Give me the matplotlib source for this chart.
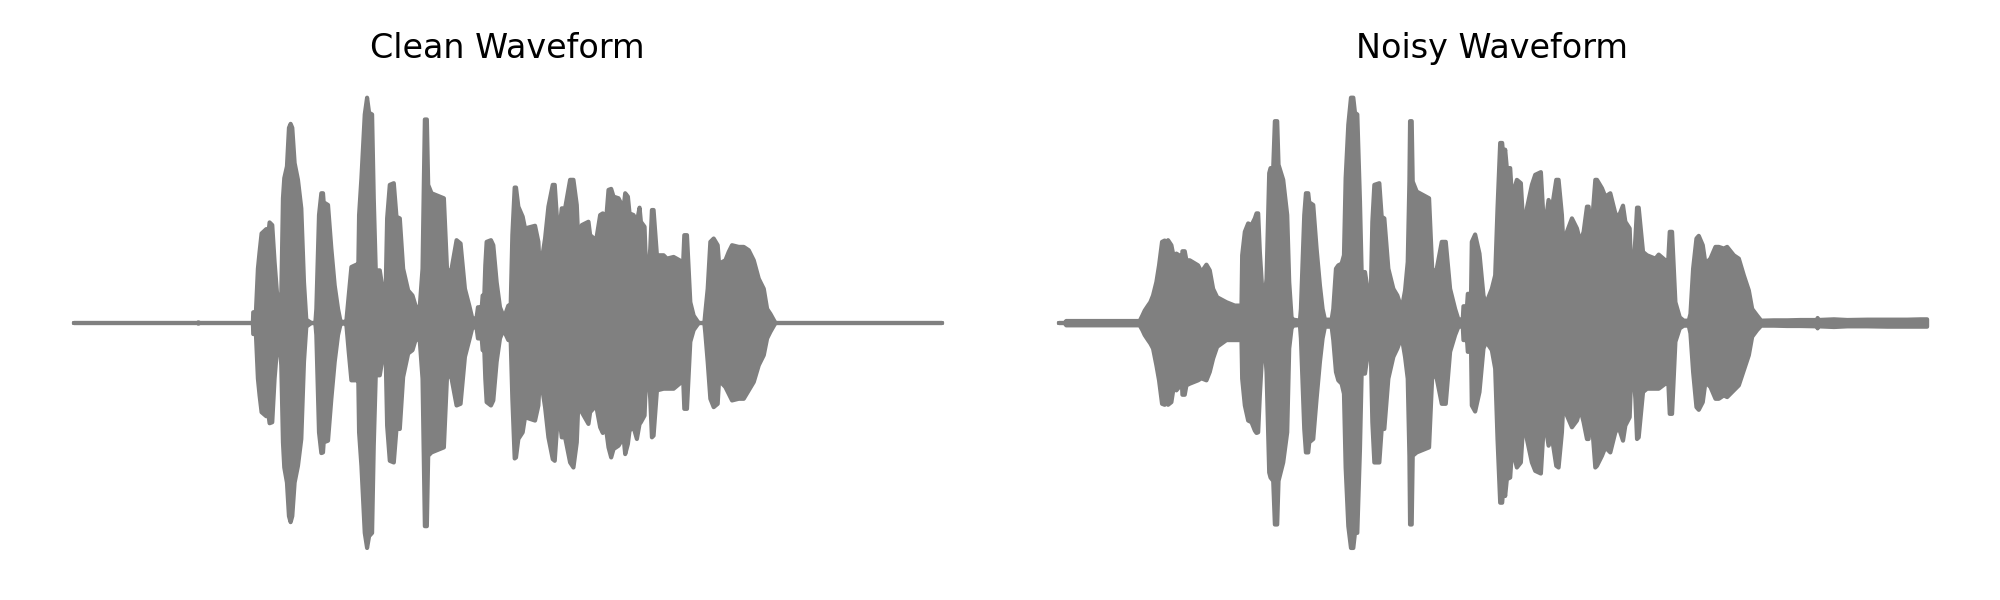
import matplotlib
matplotlib.use('Agg')
import matplotlib.pyplot as plt

# envelope of each waveform (arbitrary time / amplitude units)
clean_t = [74, 445, 447, 450, 608, 610, 611, 616, 618, 625, 630, 636, 650, 657, 660, 668, 675, 682, 690, 695,
           700, 704, 712, 718, 723, 728, 735, 745, 755, 763, 770, 785, 797, 800, 808, 815, 820, 822, 835, 845,
           855, 865, 872, 880, 890, 897, 905, 920, 925, 928, 935, 945, 952, 958, 967, 972, 978, 990, 1000, 1007,
           1012, 1020, 1032, 1040, 1050, 1060, 1075, 1088, 1100, 1110, 1118, 1122, 1125, 1131, 1135, 1145, 1182, 1192, 1205, 1220,
           1232, 1245, 1258, 1268, 1280, 1284, 1288, 1292, 1298, 1303, 1306, 1310, 1323, 1330, 1340, 1350, 1360, 1368, 1375, 1382,
           1387, 1394, 1398, 1405, 1418, 1425, 1455, 1465, 1470, 1475, 1485, 1495, 1508, 1514, 1525, 1535, 1545, 1560, 1570, 1580,
           1590, 1595, 1615, 1620, 1638, 1650, 1658, 1665, 1675, 1683, 1690, 1705, 1720, 1725, 1733, 1738, 1750, 1760, 1768, 1772,
           1783, 1790, 1800, 1805, 1810, 1820, 1840, 1850, 1870, 1888, 1895, 1902, 1910, 1920, 1930, 1945, 1962, 1965, 1972, 1980,
           1990, 2002, 2006, 2025, 2035, 2045, 2065, 2080, 2095, 2110, 2125, 2140, 2150, 2160, 2175, 2674]
clean_top = [0, 0, 2, 0, 0, 0, 32, 32, 10, 162, 212, 267, 280, 272, 300, 292, 182, 92, 57, 82,
             372, 432, 467, 582, 594, 582, 477, 427, 342, 122, 10, 0, 0, 42, 322, 387, 387, 360, 352, 222,
             112, 42, 7, 2, 7, 82, 167, 174, 122, 322, 432, 622, 672, 627, 622, 372, 157, 157, 92, 67,
             312, 412, 417, 317, 312, 162, 97, 82, 42, 52, 162, 422, 607, 607, 412, 387, 372, 147, 162, 247,
             237, 102, 52, 10, 17, 47, 47, 2, 82, 82, 172, 242, 247, 232, 122, 47, 22, 32, 52, 52,
             262, 404, 404, 347, 317, 282, 290, 242, 142, 187, 252, 347, 412, 412, 247, 342, 342, 427, 427, 352,
             112, 292, 302, 262, 247, 322, 327, 272, 397, 400, 377, 372, 342, 387, 377, 327, 322, 302, 344, 302,
             287, 92, 222, 337, 337, 202, 202, 192, 197, 187, 97, 262, 262, 62, 22, 0, 0, 32, 102, 242,
             252, 232, 177, 187, 212, 232, 227, 227, 217, 187, 132, 102, 42, 27, 0, 0]
clean_bottom = [0, 0, -2, 0, 0, 0, -33, -33, -10, -166, -216, -266, -278, -276, -299, -296, -166, -81, -61, -126,
                -356, -431, -476, -576, -594, -576, -476, -426, -346, -116, -11, 0, 0, -36, -326, -388, -386, -356, -351, -226,
                -116, -36, -6, 0, -6, -86, -171, -171, -126, -326, -426, -626, -671, -636, -626, -366, -156, -156, -96, -66,
                -306, -411, -416, -316, -316, -161, -91, -81, -41, -56, -166, -416, -606, -606, -396, -386, -371, -146, -166, -246,
                -241, -101, -51, -11, -16, -46, -46, -1, -81, -81, -166, -236, -246, -231, -116, -46, -21, -36, -51, -51,
                -226, -404, -401, -346, -326, -281, -291, -246, -146, -186, -251, -341, -406, -411, -251, -341, -341, -416, -431, -356,
                -106, -266, -301, -266, -246, -311, -328, -296, -371, -401, -376, -366, -341, -391, -361, -321, -311, -346, -301, -296,
                -276, -96, -226, -341, -336, -201, -196, -196, -196, -181, -76, -256, -256, -56, -21, 0, 0, -31, -116, -226,
                -251, -241, -171, -191, -211, -231, -226, -226, -201, -176, -126, -96, -46, -26, 0, 0]

noisy_t = [58, 75, 80, 300, 308, 315, 325, 332, 340, 350, 358, 367, 375, 380, 385, 395, 402, 410, 418, 425,
           428, 435, 440, 450, 475, 485, 500, 510, 520, 532, 560, 585, 605, 607, 615, 625, 635, 645, 650, 655,
           660, 667, 675, 680, 688, 692, 700, 705, 712, 716, 730, 742, 748, 755, 760, 780, 783, 793, 798, 805,
           808, 820, 830, 840, 848, 855, 875, 880, 888, 895, 905, 912, 917, 925, 933, 940, 945, 952, 960, 965,
           975, 985, 992, 997, 1003, 1018, 1025, 1033, 1045, 1060, 1072, 1085, 1095, 1103, 1108, 1110, 1115, 1118, 1130, 1167,
           1177, 1190, 1205, 1217, 1230, 1245, 1255, 1268, 1270, 1275, 1278, 1283, 1288, 1292, 1295, 1305, 1318, 1330, 1338, 1345,
           1355, 1365, 1372, 1380, 1386, 1390, 1395, 1400, 1410, 1415, 1420, 1430, 1442, 1450, 1460, 1475, 1485, 1502, 1512, 1525,
           1535, 1548, 1555, 1565, 1575, 1580, 1595, 1610, 1620, 1630, 1640, 1645, 1652, 1657, 1665, 1670, 1685, 1695, 1710, 1725,
           1735, 1748, 1755, 1768, 1775, 1785, 1790, 1795, 1808, 1820, 1845, 1855, 1875, 1880, 1888, 1895, 1905, 1918, 1930, 1945,
           1950, 1958, 1968, 1975, 1987, 1995, 2010, 2025, 2035, 2050, 2060, 2080, 2095, 2110, 2125, 2135, 2150, 2162, 2200, 2240,
           2280, 2330, 2331, 2333, 2380, 2420, 2480, 2540, 2600, 2640, 2659]
noisy_top = [0, 0, 6, 6, 22, 37, 52, 62, 82, 122, 172, 242, 246, 222, 247, 232, 197, 207, 202, 147,
             214, 214, 187, 187, 172, 152, 174, 157, 102, 77, 62, 52, 52, 202, 272, 297, 292, 312, 327, 327,
             212, 102, 82, 132, 447, 462, 462, 602, 602, 472, 427, 322, 122, 17, 10, 7, 42, 322, 387, 387,
             360, 352, 222, 112, 42, 10, 10, 42, 162, 172, 177, 202, 432, 592, 672, 672, 627, 622, 362, 152,
             152, 87, 72, 302, 412, 417, 317, 312, 162, 102, 82, 42, 97, 182, 422, 602, 602, 422, 392, 372,
             147, 162, 242, 242, 102, 42, 10, 12, 50, 50, 10, 87, 87, 42, 242, 264, 207, 82, 52, 77,
             102, 142, 342, 537, 537, 487, 517, 462, 462, 382, 392, 427, 417, 277, 342, 412, 442, 450, 272, 367,
             342, 427, 427, 322, 122, 272, 312, 282, 242, 272, 347, 347, 252, 322, 427, 427, 402, 377, 387, 327,
             317, 350, 302, 282, 92, 252, 344, 344, 212, 202, 192, 204, 187, 122, 272, 272, 62, 17, 7, 7,
             27, 162, 252, 260, 232, 177, 192, 227, 227, 222, 227, 202, 192, 142, 97, 42, 22, 7, 8, 8,
             9, 9, 15, 9, 11, 9, 10, 10, 10, 11, 11]
noisy_bottom = [0, 0, -7, -7, -21, -36, -51, -61, -76, -126, -171, -241, -244, -226, -244, -236, -191, -201, -191, -146,
                -214, -214, -186, -181, -171, -165, -171, -146, -106, -71, -51, -51, -51, -166, -246, -291, -296, -321, -328, -326,
                -216, -91, -76, -146, -446, -461, -471, -601, -601, -471, -416, -326, -76, -16, -8, -6, -46, -316, -386, -386,
                -356, -346, -226, -116, -46, -11, -11, -51, -146, -171, -181, -211, -431, -606, -671, -671, -626, -626, -376, -151,
                -151, -81, -66, -296, -416, -416, -316, -316, -166, -101, -76, -41, -101, -166, -396, -601, -601, -396, -386, -371,
                -146, -166, -241, -241, -86, -36, -11, -11, -51, -51, -11, -86, -86, -26, -246, -264, -206, -76, -56, -66,
                -81, -136, -346, -536, -536, -486, -516, -466, -461, -386, -391, -431, -416, -286, -346, -416, -441, -449, -281, -366,
                -341, -426, -431, -326, -126, -276, -311, -291, -256, -296, -346, -346, -246, -326, -431, -426, -396, -371, -386, -326,
                -311, -351, -306, -281, -91, -226, -346, -341, -206, -196, -196, -196, -181, -96, -271, -271, -56, -16, -8, -8,
                -31, -146, -251, -259, -236, -176, -191, -226, -226, -216, -221, -201, -186, -141, -96, -41, -21, -8, -8, -9,
                -9, -10, -16, -10, -12, -10, -10, -11, -11, -11, -11]

titles = ['Clean Waveform', 'Noisy Waveform']

fig, axes = plt.subplots(1, 2, figsize=(10, 3))

axes[0].fill_between(clean_t, clean_bottom, clean_top, color='gray', lw=1.5, joinstyle='round')
axes[1].fill_between(noisy_t, noisy_bottom, noisy_top, color='gray', lw=1.5, joinstyle='round')

for ax, title in zip(axes, titles):
    ax.set_title(title)
    ax.axis('off')

plt.tight_layout()
plt.savefig('out.png', dpi=200)
